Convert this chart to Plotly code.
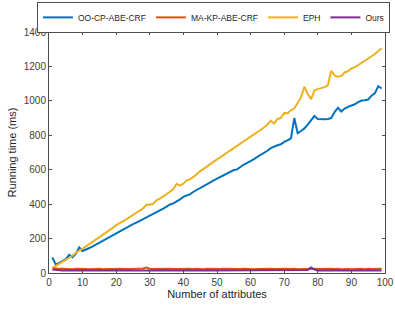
import plotly.graph_objects as go

attributes = list(range(1, 100))

oo_cp_abe_crf = [90, 50, 58, 68, 80, 105, 92, 112, 148, 128,
                 135, 145, 155, 166, 176, 186, 197, 207, 218, 232,
                 241, 252, 262, 272, 284, 293, 303, 314, 322, 333,
                 341, 352, 364, 374, 386, 398, 404, 415, 428, 442,
                 448, 458, 472, 482, 492, 505, 516, 526, 538, 548,
                 558, 570, 580, 590, 598, 602, 618, 630, 640, 650,
                 662, 675, 686, 698, 710, 725, 735, 742, 748, 762,
                 770, 782, 900, 812, 825, 840, 862, 885, 912, 895,
                 893, 893, 895, 900, 935, 960, 938, 955, 965, 972,
                 980, 992, 1002, 1004, 1008, 1030, 1045, 1085, 1072]

ma_kp_abe_crf = [30, 26, 24, 25, 23, 24, 22, 25, 23, 24,
                 23, 22, 24, 23, 25, 22, 23, 24, 22, 23,
                 24, 23, 22, 25, 23, 24, 23, 26, 32, 25,
                 23, 24, 22, 23, 25, 24, 23, 22, 24, 23,
                 24, 22, 23, 25, 23, 22, 24, 23, 24, 22,
                 23, 25, 24, 23, 22, 24, 23, 25, 23, 24,
                 22, 23, 24, 23, 22, 25, 23, 24, 22, 23,
                 24, 23, 25, 22, 23, 24, 26, 28, 25, 23,
                 24, 22, 23, 24, 23, 25, 22, 24, 23, 22,
                 24, 23, 24, 22, 25, 23, 24, 26, 25]

eph = [30, 42, 56, 68, 80, 90, 100, 118, 128, 142,
       155, 168, 180, 195, 208, 220, 232, 248, 262, 278,
       288, 300, 312, 325, 340, 350, 362, 375, 398, 396,
       402, 422, 432, 444, 460, 472, 488, 518, 508, 520,
       538, 545, 558, 578, 592, 605, 620, 632, 648, 660,
       672, 688, 700, 712, 725, 738, 752, 765, 775, 790,
       805, 818, 830, 845, 862, 885, 868, 895, 900, 930,
       928, 945, 955, 985, 1020, 1082, 1040, 1010, 1060, 1068,
       1072, 1080, 1092, 1175, 1148, 1140, 1145, 1165, 1172, 1188,
       1195, 1208, 1220, 1232, 1245, 1260, 1272, 1290, 1305]

ours = [20, 17, 16, 15, 16, 15, 15, 14, 15, 16,
        15, 14, 15, 15, 16, 15, 14, 15, 15, 14,
        15, 16, 15, 14, 15, 15, 14, 15, 16, 15,
        15, 14, 15, 15, 14, 15, 16, 15, 14, 15,
        15, 14, 15, 16, 15, 14, 15, 15, 14, 15,
        15, 16, 15, 14, 15, 15, 14, 15, 16, 15,
        15, 14, 15, 15, 14, 15, 16, 15, 14, 15,
        15, 14, 15, 16, 15, 14, 18, 32, 20, 15,
        14, 15, 15, 16, 15, 14, 15, 15, 14, 15,
        16, 15, 14, 15, 15, 14, 15, 16, 15]

x_ticks = [0, 10, 20, 30, 40, 50, 60, 70, 80, 90, 100]
y_ticks = [0, 200, 400, 600, 800, 1000, 1200, 1400]

series = [
    ("OO-CP-ABE-CRF", oo_cp_abe_crf, "#0072BD"),
    ("MA-KP-ABE-CRF", ma_kp_abe_crf, "#D95319"),
    ("EPH", eph, "#EDB120"),
    ("Ours", ours, "#7E2F8E"),
]

fig = go.Figure()
for name, vals, color in series:
    fig.add_trace(go.Scatter(x=attributes, y=vals, mode="lines", name=name,
                             line=dict(color=color, width=2)))

font_family = "Liberation Sans, Arial, sans-serif"
axis_common = dict(showline=True, linecolor="#4d4d4d", linewidth=1, mirror="ticks",
                   ticks="inside", ticklen=3, tickcolor="#4d4d4d", showgrid=False,
                   zeroline=False, tickfont=dict(size=10, color="#404040", family=font_family))

fig.update_xaxes(range=[0, 100], tickvals=x_ticks,
                 title=dict(text="Number of attributes", font=dict(size=11, color="#262626"), standoff=3),
                 **axis_common)
fig.update_yaxes(range=[0, 1400], tickvals=y_ticks,
                 title=dict(text="Running time (ms)", font=dict(size=11, color="#262626"), standoff=4),
                 **axis_common)

fig.update_layout(
    width=395, height=313,
    margin=dict(l=49, r=10, t=32, b=40, autoexpand=False),
    plot_bgcolor="white", paper_bgcolor="white",
    font=dict(family=font_family, color="#262626"),
    legend=dict(orientation="h", xref="paper", yref="paper",
                x=-0.036, xanchor="left", y=1.125, yanchor="top",
                bordercolor="#4d4d4d", borderwidth=1, bgcolor="white",
                font=dict(size=8.5, color="#262626"), itemwidth=30,
                tracegroupgap=0),
    showlegend=True,
)

fig.write_html("out.html", config={"displayModeBar": False},
               post_script="document.body.style.margin='0';")
